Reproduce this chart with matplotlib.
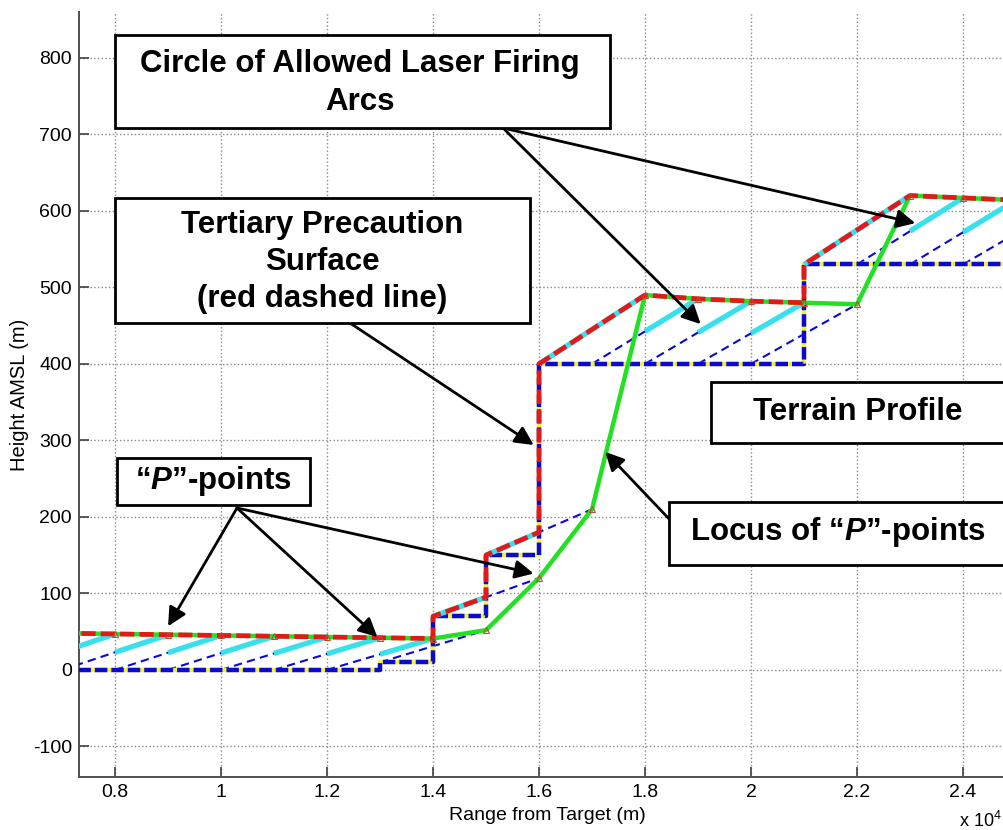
import numpy as np
import matplotlib
matplotlib.use('Agg')
import matplotlib.pyplot as plt
from matplotlib.patches import Rectangle

plt.rcParams['font.family'] = ['Liberation Sans', 'DejaVu Sans']
plt.rcParams['mathtext.fontset'] = 'custom'
plt.rcParams['mathtext.rm'] = 'Liberation Sans'
plt.rcParams['mathtext.bfit'] = 'Liberation Sans:italic:bold'
plt.rcParams['axes.unicode_minus'] = False

W, H = 1004, 830

# terrain profile: level before the first step, then the level after each step
step_x = [13000, 14000, 15000, 16000, 21000]
step_h = [0, 10, 70, 150, 400, 530]

# start ranges of the laser firing arcs (one every 1000 m)
ray_x = [6000, 7000, 8000, 9000, 10000, 11000, 12000, 13000, 14000, 15000,
         16000, 17000, 18000, 19000, 20000, 21000, 22000, 23000, 24000]

# "P"-points (end of each arc, 2000 m further out)
p_x = [7000, 8000, 9000, 10000, 11000, 12000, 13000, 14000, 15000, 16000,
       17000, 18000, 19000, 20000, 21000, 22000, 23000, 24000, 25000, 26000]
p_h = [48, 47, 46, 45, 44, 43, 42, 41, 52, 120,
       210, 490, 485, 482, 480, 478, 620, 617, 614, 611]

x_ticks = [8000, 10000, 12000, 14000, 16000, 18000, 20000, 22000, 24000]
x_ticklabels = ['0.8', '1', '1.2', '1.4', '1.6', '1.8', '2', '2.2', '2.4']
y_ticks = [-100, 0, 100, 200, 300, 400, 500, 600, 700, 800]


def terrain_at(x):
	h = step_h[0]
	for sx, sh in zip(step_x, step_h[1:]):
		if x >= sx:
			h = sh
	return h


def p_at(x):
	return p_h[p_x.index(x)]


def fx(px):
	return px / W


def fy(py):
	return 1 - py / H


fig = plt.figure(figsize=(W / 100, H / 100), dpi=100)
ax = fig.add_axes([fx(79), fy(777), fx(937), (777 - 12) / H])

# terrain line
tx, th = [7000], [step_h[0]]
for sx, h0, h1 in zip(step_x, step_h[:-1], step_h[1:]):
	tx += [sx, sx]
	th += [h0, h1]
tx.append(26000)
th.append(step_h[-1])

# arcs
rays = {}
for x0 in ray_x:
	h0 = terrain_at(x0)
	h2 = p_at(x0 + 2000)
	rays[x0] = (h0, (h0 + h2) / 2.0, h2)

for x0, (h0, h1, h2) in rays.items():
	ax.plot([x0, x0 + 2000], [h0, h2], color='#0a0ad0', lw=1.5,
		dashes=(4, 2.5), zorder=3)

ax.plot(tx, th, color='#f2f23a', lw=3.2, zorder=4)
ax.plot(tx, th, color='#0a0ad0', lw=3.2, dashes=(2.8, 0.9), zorder=4)

# upper envelope of the arcs and the precaution surface
red_x, red_y = [], []
for g in range(7000, 25000, 1000):
	cands = []
	if g - 1000 in rays:
		r = rays[g - 1000]
		cands.append((r[1], r[2]))
	if g in rays:
		r = rays[g]
		cands.append((r[0], r[1]))
	env = max(cands, key=lambda c: c[0] + c[1])
	ax.plot([g, g + 1000], env, color='#38e0ee', lw=3.8, zorder=5,
		solid_capstyle='butt')
	grn = (p_at(g), p_at(g + 1000))
	top = max([env, grn], key=lambda c: c[0] + c[1])
	red_x += [g, g + 1000]
	red_y += list(top)

ax.plot(p_x, p_h, color='#22e022', lw=3.2, zorder=6)
ax.plot(p_x, p_h, ls='none', marker='^', ms=4, mfc='none', mec='#c04a30',
	mew=0.8, zorder=8)
ax.plot(red_x, red_y, color='#e41818', lw=3.4, dashes=(3, 1.1), zorder=7)

ax.set_xlim(7320, 25000)
ax.set_ylim(-140, 860)
ax.set_xticks(x_ticks)
ax.set_xticklabels(x_ticklabels)
ax.set_yticks(y_ticks)
ax.grid(True, ls=':', color='#8a8a8a', lw=1.0)
ax.tick_params(direction='in', length=7, width=1.2, color='#404040',
	labelsize=14, pad=5)
for side in ['top', 'right']:
	ax.spines[side].set_visible(False)
for side in ['left', 'bottom']:
	ax.spines[side].set_color('#505050')
	ax.spines[side].set_linewidth(1.4)
ax.set_xlabel('Range from Target (m)', fontsize=14, labelpad=4)
ax.set_ylabel('Height AMSL (m)', fontsize=14.5, labelpad=3)
fig.text(fx(959), fy(821), r'x 10$^{4}$', fontsize=13, va='center', ha='left')

# annotation boxes
boxes = [
	(115, 35, 610, 128),
	(115, 198, 530, 323),
	(117, 458, 310, 505),
	(711, 382, 1010, 443),
	(669, 502, 1010, 565),
]
for x0, y0, x1, y1 in boxes:
	fig.patches.append(Rectangle((fx(x0), fy(y1)), fx(x1 - x0), (y1 - y0) / H,
		transform=fig.transFigure, fill=True, facecolor='white',
		edgecolor='black', lw=2, zorder=10))

txt = dict(fontsize=22.5, fontweight='bold', ha='center', va='center',
	linespacing=1.32, zorder=11)
fig.text(fx(360), fy(83), 'Circle of Allowed Laser Firing\nArcs', **txt)
fig.text(fx(322), fy(262), 'Tertiary Precaution\nSurface\n(red dashed line)', **txt)
fig.text(fx(213), fy(481), '\u201c$\\mathbfit{P}$\u201d-points', **txt)
fig.text(fx(858), fy(412), 'Terrain Profile', **txt)
fig.text(fx(838), fy(532), 'Locus of \u201c$\\mathbfit{P}$\u201d-points', **txt)

arrows = [
	((503, 128), (19050, 452)),
	((503, 128), (23100, 584)),
	((350, 323), (15900, 294)),
	((237, 508), (9000, 57)),
	((237, 508), (12950, 43)),
	((237, 508), (15900, 126)),
	((672, 522), (17250, 285)),
]
for (sx, sy), tip in arrows:
	ax.annotate('', xy=tip, xycoords='data',
		xytext=(fx(sx), fy(sy)), textcoords='figure fraction',
		arrowprops=dict(arrowstyle='-|>', color='black', lw=2,
			mutation_scale=28, shrinkA=0, shrinkB=0), zorder=9)

fig.savefig('out.png', dpi=100)
